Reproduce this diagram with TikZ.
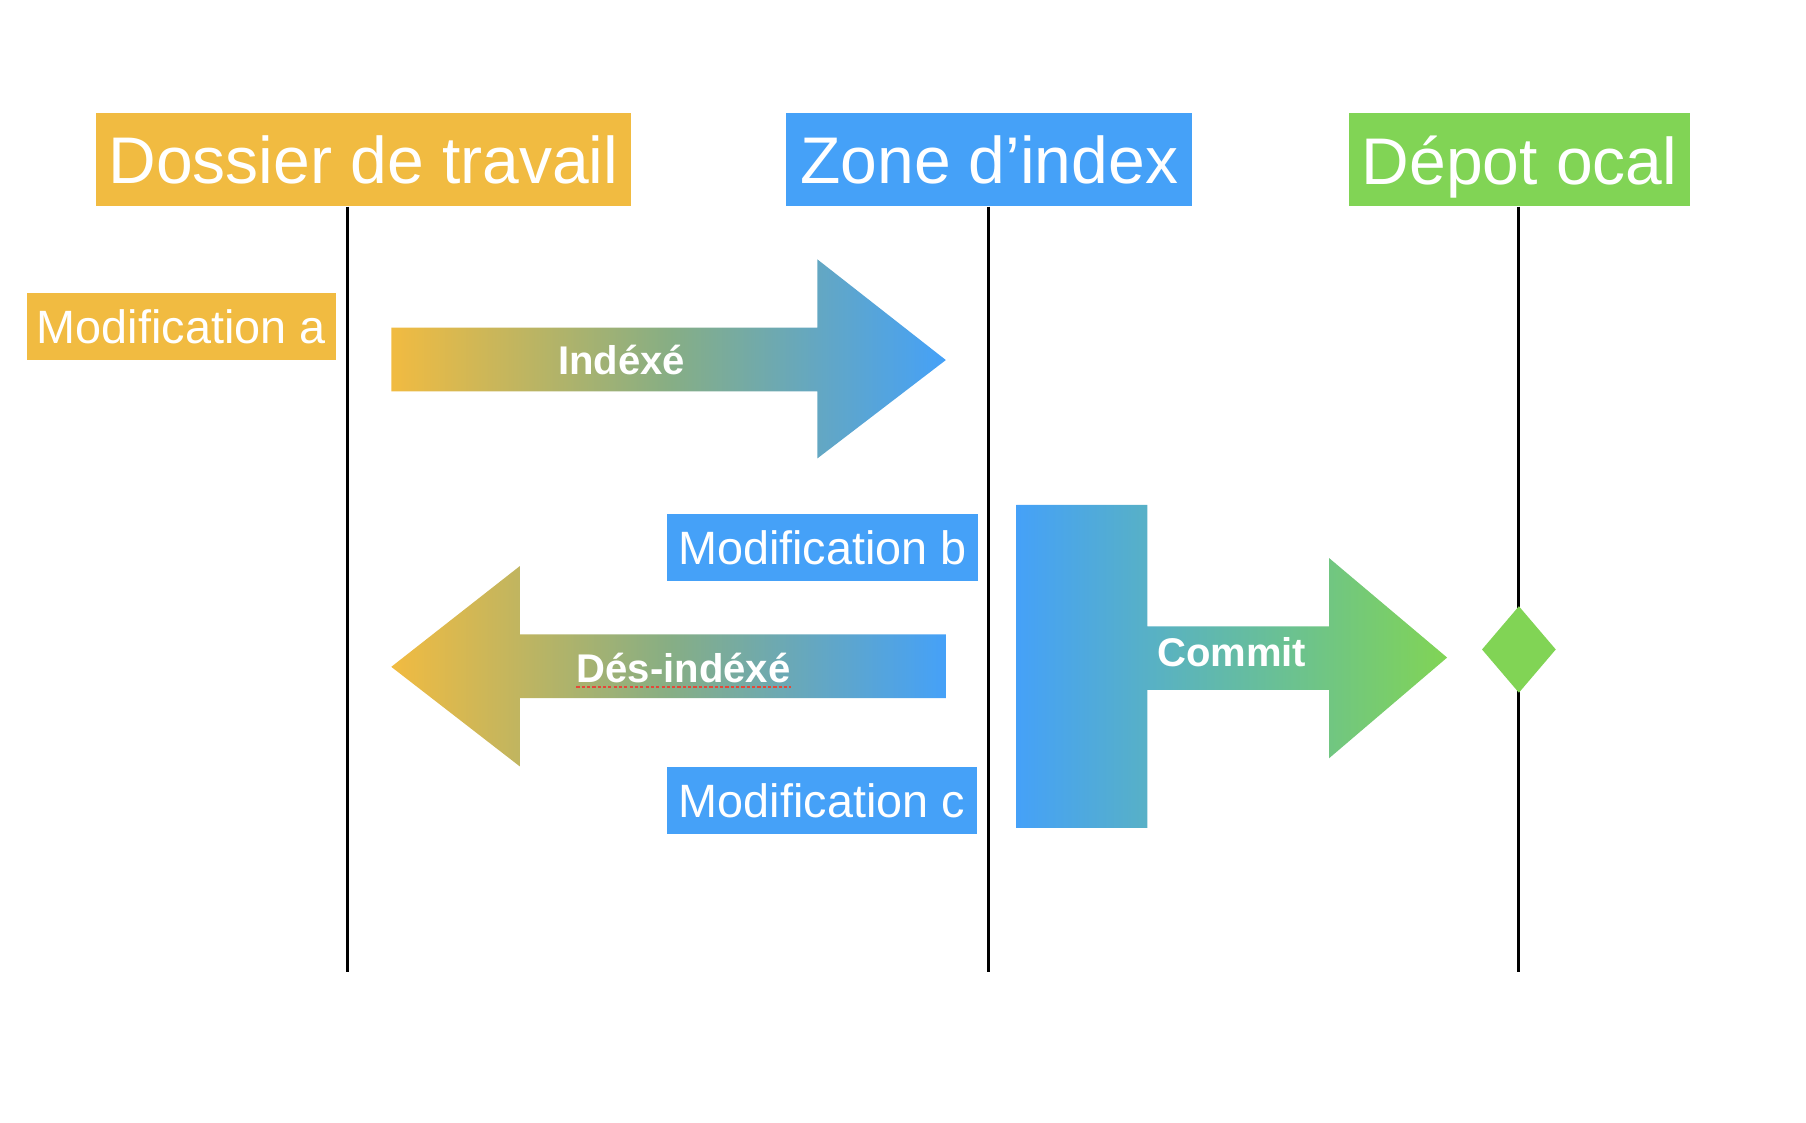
\documentclass[tikz,border=0pt]{standalone}
\usepackage{fontspec}
\setmainfont{Liberation Sans}
\usetikzlibrary{shapes.geometric}
\definecolor{jaune}{RGB}{241,187,65}
\definecolor{bleu}{RGB}{69,161,248}
\definecolor{vert}{RGB}{129,212,85}
\definecolor{olive}{RGB}{135,174,132}
\definecolor{rouge}{RGB}{228,72,58}
\tikzset{
  titre/.style={fill=#1, text=white, inner sep=0pt, minimum height=40pt, text depth=0pt,
    font=\fontsize{28.5}{30}\selectfont},
  modif/.style={fill=#1, text=white, inner sep=0pt, minimum height=29pt, text depth=0pt,
    font=\fontsize{20.2}{22}\selectfont},
  vie/.style={line width=1.3pt},
  fleche/.style={text=white, inner sep=0pt, text depth=0pt, font=\bfseries\fontsize{17.3}{19}\selectfont},
}

\begin{document}
\begin{tikzpicture}[x=0.5pt,y=-0.5pt]
    \useasboundingbox (0,0) rectangle (1560,969.2);
    \node[titre=jaune, minimum width=231pt] (D) at (314,138) {Dossier de travail};
    \node[titre=bleu, minimum width=175.5pt] (Z) at (854.5,138) {Zone d’index};
    \node[titre=vert, minimum width=147.5pt] (R) at (1312.5,138) {Dépot ocal};
    \coordinate (Dbas) at (300,840);
    \coordinate (Zbas) at (854,840);
    \coordinate (Rbas) at (1312,840);
    \draw[vie] (Dbas |- D.south) -- (Dbas);
    \draw[vie] (Zbas |- Z.south) -- (Zbas);
    \draw[vie] (Rbas |- R.south) -- (Rbas);
    \node[modif=jaune, minimum width=133.5pt] (Ma) at (156.5,282) {Modification a};
    \node[modif=bleu, minimum width=134.5pt] (Mb) at (710.5,473) {Modification b};
    \node[modif=bleu, minimum width=134pt] (Mc) at (710,691.5) {Modification c};
    % les trois fleches
    \shade[left color=jaune, right color=bleu, middle color=olive] (338,283) -- (706,283) -- (706,224)
        -- (817,311) -- (706,396) -- (706,338) -- (338,338) -- cycle;
    \shade[left color=jaune, right color=bleu, middle color=olive] (338,576) -- (449,489) -- (449,548)
        -- (817,548) -- (817,603) -- (449,603) -- (449,662) -- cycle;
    \shade[left color=bleu, right color=vert] (878,436) -- (991,436) -- (991,541) -- (1148,541)
        -- (1148,482) -- (1250,568) -- (1148,655) -- (1148,596) -- (991,596) -- (991,715)
        -- (878,715) -- cycle;
    \node[fleche] (I) at (537,311) {Indéxé};
    \node[fleche] (S) at (590.5,577) {Dés-indéxé};
    \node[fleche] (C) at (1064,563) {Commit};
    \draw[rouge, line width=1.1pt, dash pattern=on 1.4pt off 0.9pt]
        ([yshift=-1.6pt]S.south west) -- ([yshift=-1.6pt]S.south east);
    \node[diamond, fill=vert, inner sep=0pt, minimum width=32pt, minimum height=37.5pt] (K) at (1312,561) {};
\end{tikzpicture}
\end{document}
